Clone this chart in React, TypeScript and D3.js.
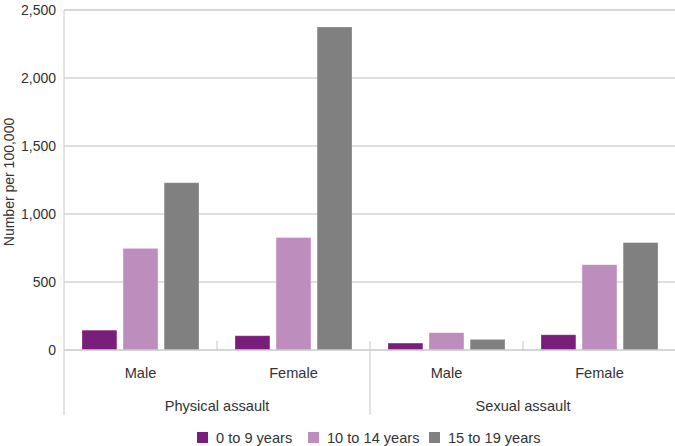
import React from "react";
import * as d3 from "d3";

const assaultTypes = ["Physical assault", "Sexual assault"];
const sexes = ["Male", "Female"];
const ageGroups = ["0 to 9 years", "10 to 14 years", "15 to 19 years"];
// values per [assaultType][sex][ageGroup]
const physicalMale = [146, 747, 1230];
const physicalFemale = [105, 827, 2375];
const sexualMale = [51, 127, 78];
const sexualFemale = [112, 627, 790];
const yTicks = [0, 500, 1000, 1500, 2000, 2500];
const colors = ["#7a1e7c", "#bd8dbd", "#808080"];

const data = [
  [physicalMale, physicalFemale],
  [sexualMale, sexualFemale],
];

export default function App() {
  const W = 675, H = 446;
  const left = 64, right = 676, top = 10, bottom = 350;
  const y = d3.scaleLinear().domain([0, 2500]).range([bottom, top]);
  const outer = d3.scaleBand().domain(assaultTypes).range([left, right]);
  const inner = d3.scaleBand().domain(sexes).range([0, outer.bandwidth()]);
  const barX = d3.scaleBand().domain(ageGroups).range([18, inner.bandwidth() - 18]).paddingInner(0.15);
  const fmt = d3.format(",");
  const font = "'Liberation Sans', Arial, sans-serif";
  const fs = 14;
  const fs2 = 14.6;

  return (
    <svg width={W} height={H} style={{ position: "absolute", left: 0, top: 0 }} fontFamily={font}>
      <rect width={W} height={H} fill="#fff" />
      {yTicks.map((t) => (
        <g key={t}>
          {t > 0 && <line x1={left} x2={right} y1={y(t)} y2={y(t)} stroke="#d4d4d4" strokeWidth={1.3} />}
          <text x={56} y={y(t)} dy="0.35em" textAnchor="end" fontSize={fs} fill="#333">{fmt(t)}</text>
        </g>
      ))}
      {assaultTypes.map((a, ai) => (
        <g key={a}>
          {sexes.map((s, si) => {
            const gx = outer(a)! + inner(s)!;
            return (
              <g key={s}>
                {ageGroups.map((g, gi) => (
                  <rect key={g} x={gx + barX(g)!} width={barX.bandwidth()} y={y(data[ai][si][gi])}
                    height={bottom - y(data[ai][si][gi])} fill={colors[gi]} stroke="rgba(255,255,255,0.35)" strokeWidth={0.8} />
                ))}
                <text x={gx + inner.bandwidth() / 2} y={373} dy="0.35em" textAnchor="middle" fontSize={fs2} fill="#333">{s}</text>
                {si > 0 && <line x1={gx} x2={gx} y1={341} y2={bottom} stroke="#c8c8c8" strokeWidth={1} />}
              </g>
            );
          })}
          <text x={outer(a)! + outer.bandwidth() / 2} y={406} dy="0.35em" textAnchor="middle" fontSize={fs2} fill="#333">{a}</text>
          {ai > 0 && <line x1={outer(a)!} x2={outer(a)!} y1={341} y2={415} stroke="#c8c8c8" strokeWidth={1} />}
        </g>
      ))}
      <line x1={left} x2={right} y1={bottom} y2={bottom} stroke="#c8c8c8" strokeWidth={1.3} />
      <line x1={left} x2={left} y1={top} y2={415} stroke="#c8c8c8" strokeWidth={1} />
      <line x1={left} x2={right} y1={top} y2={top} stroke="#d4d4d4" strokeWidth={1.3} />
      <text transform={`translate(9,${(top + bottom) / 2 + 2}) rotate(-90)`} dy="0.35em" textAnchor="middle" fontSize={fs} fill="#333">Number per 100,000</text>
      {ageGroups.map((g, i) => {
        const lx = [197, 308, 429][i];
        return (
          <g key={g}>
            <rect x={lx} y={432} width={11} height={11} fill={colors[i]} />
            <text x={lx + 19} y={438} dy="0.35em" fontSize={fs2} fill="#333">{g}</text>
          </g>
        );
      })}
    </svg>
  );
}
